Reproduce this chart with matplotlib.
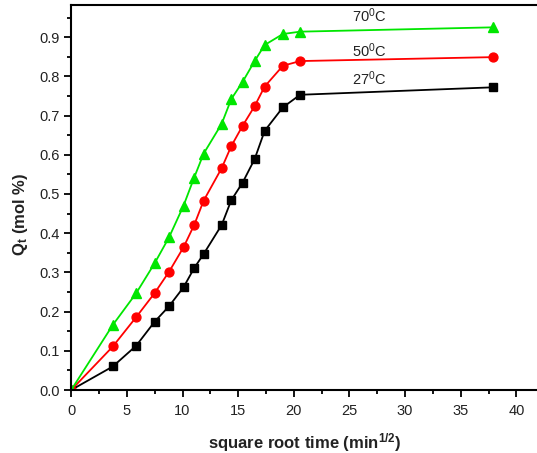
import matplotlib
matplotlib.use("Agg")
import matplotlib.pyplot as plt
from matplotlib.ticker import MultipleLocator, FormatStrFormatter

plt.rcParams['font.family'] = ['Liberation Sans', 'DejaVu Sans']
plt.rcParams['mathtext.fontset'] = 'custom'
plt.rcParams['mathtext.rm'] = 'Liberation Sans'
plt.rcParams['mathtext.it'] = 'Liberation Sans:italic'
plt.rcParams['mathtext.bf'] = 'Liberation Sans:bold'

# square root of contact time (min^1/2)
sqrt_time = [0, 3.74, 5.84, 7.49, 8.80, 10.09, 11.05, 11.90, 13.52, 14.38,
             15.40, 16.48, 17.38, 19.02, 20.56, 37.85]

# uptake Q_t (mol %) at each temperature
q_27 = [0, 0.060, 0.113, 0.174, 0.214, 0.262, 0.311, 0.347, 0.421, 0.484,
        0.529, 0.589, 0.661, 0.721, 0.753, 0.772]
q_50 = [0, 0.111, 0.186, 0.247, 0.302, 0.364, 0.421, 0.483, 0.566, 0.622,
        0.674, 0.724, 0.774, 0.827, 0.839, 0.849]
q_70 = [0, 0.166, 0.247, 0.323, 0.390, 0.470, 0.542, 0.603, 0.679, 0.742,
        0.786, 0.839, 0.880, 0.908, 0.914, 0.925]

labels = [r'27$^0$C', r'50$^0$C', r'70$^0$C']
label_x = [26.8, 26.8, 26.8]
label_y = [0.793, 0.865, 0.954]

fig = plt.figure(figsize=(5.37, 4.53), dpi=100)
ax = fig.add_axes([71.2 / 537, 63 / 453, 467.5 / 537, 385 / 453])

ax.plot(sqrt_time, q_27, color='black', lw=1.3, marker='s', ms=5.6)
ax.plot(sqrt_time, q_50, color='#ff0000', lw=1.3, marker='o', ms=6.4)
ax.plot(sqrt_time, q_70, color='#00e600', lw=1.3, marker='^', ms=6.8)

for txt, tx, ty in zip(labels, label_x, label_y):
    ax.text(tx, ty, txt, ha='center', va='center', fontsize=10.5, color='#222222')

ax.set_xlim(0, 42)
ax.set_ylim(0, 0.982)
ax.xaxis.set_major_locator(MultipleLocator(5))
ax.xaxis.set_minor_locator(MultipleLocator(2.5))
ax.yaxis.set_major_locator(MultipleLocator(0.1))
ax.yaxis.set_minor_locator(MultipleLocator(0.05))
ax.yaxis.set_major_formatter(FormatStrFormatter('%.1f'))

ax.tick_params(which='major', direction='out', length=5, width=1.3, labelsize=10.5,
               top=False, right=False, labelcolor='#222222')
ax.tick_params(axis='x', which='major', pad=5)
ax.tick_params(which='minor', direction='out', length=3, width=1.3,
               top=False, right=False)
for sp in ax.spines.values():
    sp.set_linewidth(1.5)

ax.set_xlabel(r'square root time (min$^{\mathbf{1/2}}$)', fontsize=12, fontweight='bold',
              color='#222222')
ax.set_ylabel(r'$\mathbf{Q_t}$ (mol %)', fontsize=12, fontweight='bold', color='#222222')
ax.xaxis.set_label_coords(0.5, -0.108)
ax.yaxis.set_label_coords(-0.088, 0.455)

fig.savefig('out.png', dpi=100)
